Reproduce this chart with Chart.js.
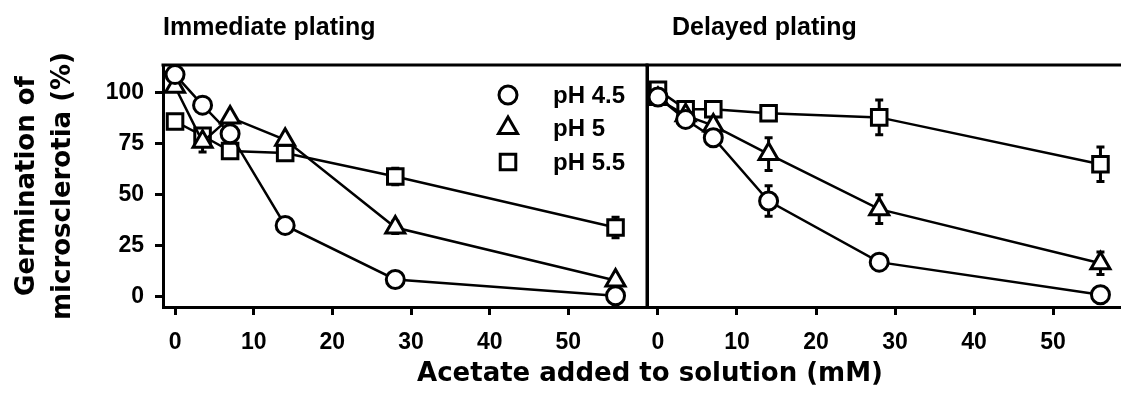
<!DOCTYPE html>
<html>
<head>
<meta charset="utf-8">
<script src="https://cdn.jsdelivr.net/npm/chart.js@4.4.1/dist/chart.umd.min.js"></script>
<style>
  body { margin: 0; background: #fff; }
  #wrap { position: relative; width: 1121px; height: 410px; overflow: hidden; background: #fff; }
  canvas { position: absolute; top: 0; }
  .ttl { position: absolute; top: 14px; font: bold 25px "Liberation Sans", Arial, sans-serif; line-height: 1; white-space: nowrap; color: #000; }
  #xTitle { position: absolute; left: 350px; width: 600px; top: 359px; text-align: center;
            font: bold 26px "DejaVu Sans", sans-serif; line-height: 1; color: #000; white-space: nowrap; }
</style>
</head>
<body>
<div id="wrap">
  <canvas id="left" width="660" height="410" style="left:0;width:660px;height:410px"></canvas>
  <canvas id="right" width="501" height="410" style="left:620px;width:501px;height:410px"></canvas>
  <div class="ttl" style="left:163px">Immediate plating</div>
  <div class="ttl" style="left:672px">Delayed plating</div>
  <div id="xTitle">Acetate added to solution (mM)</div>
</div>
<script>
// acetate concentrations (mM)
const conc = [0, 3.5, 7, 14, 28, 56];
const xTicks = [0, 10, 20, 30, 40, 50];
const yTicks = [0, 25, 50, 75, 100];
const labels = ['pH 4.5', 'pH 5', 'pH 5.5'];

// immediate plating
const immPH45 = [109, 94, 80, 35, 8.5, 0.5];
const immPH5 = [103, 76, 88, 77, 34, 8];
const immPH55 = [86, 79, 71.5, 70.5, 59, 34];
const immErr45 = [1, 1, 1, 1, 2, 1];
const immErr5 = [1, 5, 1, 1, 3, 2];
const immErr55 = [2, 2, 1, 1, 4, 5];

// delayed plating
const delPH45 = [98, 87, 78, 47, 17, 1];
const delPH5 = [97, 89, 84, 70, 43, 16.5];
const delPH55 = [101.5, 92, 92, 90, 88, 65];
const delErr45 = [1, 3, 2, 7.5, 3, 1];
const delErr5 = [1, 2, 3, 8, 7, 5.5];
const delErr55 = [1, 2, 2, 3, 8.5, 8.5];

const styles = ['circle', 'triangle', 'rect'];
const radii = [9, 11, 11];

function series(i, vals, errs) {
    return {
        label: labels[i],
        data: conc.map((x, k) => ({ x: x, y: vals[k] })),
        errors: errs,
        pointStyle: styles[i],
        pointRadius: radii[i],
        pointHoverRadius: radii[i],
        pointBorderWidth: 3,
        pointBorderColor: '#000',
        pointBackgroundColor: '#fff',
        borderColor: '#000',
        borderWidth: 2.5,
        showLine: true,
        tension: 0,
        clip: false
    };
}

function marker(ctx, style, x, y, r) {
    ctx.beginPath();
    if (style === 'circle') {
        ctx.arc(x, y, r, 0, Math.PI * 2);
    } else if (style === 'triangle') {
        for (let k = 0; k < 3; k++) {
            const a = k * 2 * Math.PI / 3;
            const px = x + Math.sin(a) * r, py = y - Math.cos(a) * r;
            if (k === 0) ctx.moveTo(px, py); else ctx.lineTo(px, py);
        }
        ctx.closePath();
    } else {
        const s = r * Math.SQRT1_2;
        ctx.rect(x - s, y - s, 2 * s, 2 * s);
    }
    ctx.fill();
    ctx.stroke();
}

const errorBars = {
    id: 'errorBars',
    beforeDatasetsDraw(chart) {
        const { ctx } = chart;
        const xs = chart.scales.x, ys = chart.scales.y;
        ctx.save();
        ctx.strokeStyle = '#000';
        ctx.lineWidth = 3;
        chart.data.datasets.forEach(ds => {
            ds.data.forEach((p, i) => {
                const e = ds.errors[i];
                if (!e) return;
                const px = xs.getPixelForValue(p.x);
                const t = ys.getPixelForValue(p.y + e);
                const b = ys.getPixelForValue(p.y - e);
                ctx.beginPath();
                ctx.moveTo(px, t); ctx.lineTo(px, b);
                ctx.moveTo(px - 4, t); ctx.lineTo(px + 4, t);
                ctx.moveTo(px - 4, b); ctx.lineTo(px + 4, b);
                ctx.stroke();
            });
        });
        ctx.restore();
    }
};

const frame = {
    id: 'frame',
    afterDraw(chart, args, opts) {
        const { ctx, chartArea: a } = chart;
        ctx.save();
        ctx.strokeStyle = '#000';
        ctx.lineWidth = 3;
        ctx.lineCap = 'square';
        ctx.beginPath();
        ctx.moveTo(a.left, a.top);
        ctx.lineTo(a.right, a.top);
        if (opts.right) ctx.lineTo(a.right, a.bottom);
        ctx.stroke();
        ctx.restore();
    }
};

const legendBox = {
    id: 'legendBox',
    afterDraw(chart, args, opts) {
        if (!opts.show) return;
        const { ctx } = chart;
        ctx.save();
        ctx.strokeStyle = '#000';
        ctx.lineWidth = 3;
        chart.data.datasets.forEach((ds, i) => {
            const y = opts.rows[i];
            ctx.fillStyle = '#fff';
            marker(ctx, ds.pointStyle, opts.x, y, ds.pointRadius);
            ctx.fillStyle = '#000';
            ctx.font = 'bold 24px "Liberation Sans", Arial, sans-serif';
            ctx.textBaseline = 'middle';
            ctx.textAlign = 'left';
            ctx.fillText(ds.label, opts.textX, y + 1);
        });
        ctx.restore();
    }
};

const tickFont = { family: '"Liberation Sans", Arial, sans-serif', size: 23, weight: 'bold' };

function makeChart(id, datasets, xMin, xMax, isLeft) {
    const yAxis = {
        type: 'linear',
        min: -5,
        max: 113.7,
        afterBuildTicks: s => { s.ticks = yTicks.map(v => ({ value: v })); },
        ticks: { display: isLeft, color: '#000', font: tickFont, padding: 11 },
        grid: { display: isLeft, drawOnChartArea: false, tickLength: 8, tickWidth: 3, tickColor: '#000' },
        border: { display: true, color: '#000', width: 3 },
        title: {
            display: isLeft,
            text: ['Germination of', 'microsclerotia (%)'],
            color: '#000',
            font: { family: '"DejaVu Sans", sans-serif', size: 26, weight: 'bold', lineHeight: 1.385 },
            padding: { top: 9, bottom: 0 }
        },
        afterFit: s => { s.width = isLeft ? 163 : 27; s.paddingTop = 0; s.paddingBottom = 0; }
    };
    const xAxis = {
        type: 'linear',
        min: xMin,
        max: xMax,
        afterBuildTicks: s => { s.ticks = xTicks.map(v => ({ value: v })); },
        ticks: { color: '#000', font: tickFont, padding: 14, autoSkip: false, maxRotation: 0 },
        grid: { drawOnChartArea: false, tickLength: 8, tickWidth: 3, tickColor: '#000' },
        border: { display: true, color: '#000', width: 3 },
        afterFit: s => { s.height = 103; s.paddingLeft = 0; s.paddingRight = 0; }
    };
    return new Chart(document.getElementById(id), {
        type: 'line',
        data: { datasets: datasets },
        options: {
            responsive: false,
            animation: false,
            events: [],
            layout: { autoPadding: false, padding: { top: 65, right: isLeft ? 13 : 0, left: 0, bottom: 0 } },
            scales: { x: xAxis, y: yAxis },
            plugins: {
                legend: { display: false },
                tooltip: { enabled: false },
                frame: { right: isLeft },
                legendBox: { show: isLeft, x: 508, textX: 553, rows: [95, 128, 162] }
            }
        },
        plugins: [errorBars, frame, legendBox]
    });
}

makeChart('left', [
    series(0, immPH45, immErr45),
    series(1, immPH5, immErr5),
    series(2, immPH55, immErr55)
], -1.53, 60, true);

makeChart('right', [
    series(0, delPH45, delErr45),
    series(1, delPH5, delErr5),
    series(2, delPH55, delErr55)
], -1.39, 58.6, false);
</script>
</body>
</html>
